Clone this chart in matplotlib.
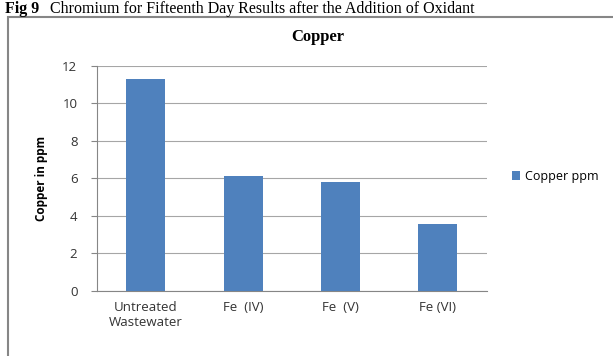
import matplotlib
matplotlib.use("Agg")
import matplotlib.pyplot as plt
from matplotlib.patches import Rectangle

# Datos del gráfico
categorias = ["Untreated\nWastewater", "Fe  (IV)", "Fe  (V)", "Fe (VI)"]
cobre_ppm = [11.3, 6.15, 5.8, 3.55]
ticks_y = [0, 2, 4, 6, 8, 10, 12]

azul = "#4F81BD"
gris = "#868686"

fig = plt.figure(figsize=(6.13, 3.56), dpi=100)

# Texto del documento en la parte superior
fig.text(0.008, 0.997, "Fig 9", fontsize=11.5, fontweight="bold",
         family="Liberation Serif", va="top", ha="left")
fig.text(0.082, 0.997, "Chromium for Fifteenth Day Results after the Addition of Oxidant",
         fontsize=11.5, family="Liberation Serif", va="top", ha="left")

# Marco del gráfico
fig.patches.append(Rectangle((0.013, -0.05), 1.2, 1.003, transform=fig.transFigure,
                             fill=False, edgecolor=gris, linewidth=1.5))

ax = fig.add_axes([0.158, 0.183, 0.636, 0.632])
x = range(len(categorias))
ax.bar(x, cobre_ppm, width=0.4, color=azul, zorder=3, label="Copper ppm")

ax.set_xlim(-0.5, len(categorias) - 0.5)
ax.set_ylim(0, 12)
ax.set_yticks(ticks_y)
ax.set_xticks(list(x))
ax.set_xticklabels(categorias, family="Open Sans", fontsize=9.5, color="#333333")
ax.tick_params(axis="y", labelsize=9.5, colors="#333333", length=4, color=gris, pad=10)
ax.tick_params(axis="x", length=0, pad=7)
for lbl in ax.get_yticklabels():
    lbl.set_family("Open Sans")

ax.grid(axis="y", color="#A6A6A6", linewidth=0.8, zorder=0)
for lado in ["top", "right"]:
    ax.spines[lado].set_visible(False)
ax.spines["left"].set_color(gris)
ax.spines["bottom"].set_color(gris)

ax.set_ylabel("Copper in ppm", family="Open Sans", fontweight="bold", fontsize=8.5, labelpad=10)
fig.text(0.519, 0.895, "Copper", family="Liberation Serif", fontweight="bold",
         fontsize=12, ha="center", va="center")

ax.legend(loc="center left", bbox_to_anchor=(1.035, 0.51), frameon=False,
          prop={"family": "Open Sans", "size": 9}, handlelength=0.7, handleheight=0.7,
          handletextpad=0.4)

fig.savefig("out.png", dpi=100)
